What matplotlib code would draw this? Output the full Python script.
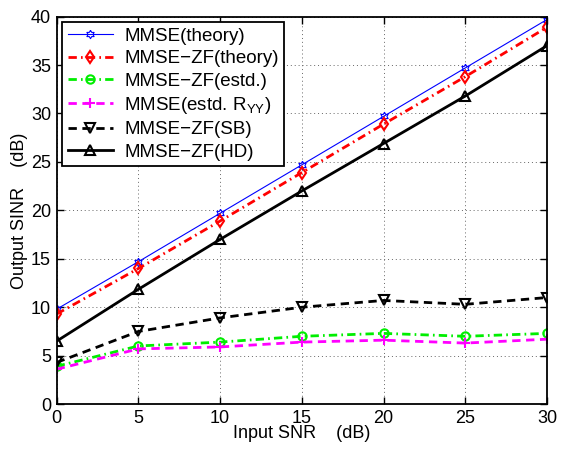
import numpy as np
import matplotlib
matplotlib.use("Agg")
import matplotlib.pyplot as plt

plt.rcParams['font.family'] = ['Liberation Sans', 'DejaVu Sans']
plt.rcParams['mathtext.fontset'] = 'custom'
plt.rcParams['mathtext.rm'] = 'Liberation Sans'
plt.rcParams['mathtext.it'] = 'Liberation Sans'

snr = [0, 5, 10, 15, 20, 25, 30]
mmse_theory = [9.8, 14.7, 19.7, 24.7, 29.7, 34.7, 39.7]
zf_theory = [9.3, 14.0, 18.9, 23.9, 28.9, 33.8, 38.9]
zf_estd = [3.9, 6.0, 6.4, 7.0, 7.3, 7.0, 7.3]
mmse_estd = [3.6, 5.7, 5.9, 6.4, 6.6, 6.3, 6.7]
zf_sb = [4.3, 7.5, 8.9, 10.0, 10.7, 10.3, 11.0]
zf_hd = [6.5, 11.85, 17.0, 22.0, 26.9, 31.8, 37.0]

# six-pointed star marker
ang_out = np.deg2rad(90 + 60 * np.arange(6))
ang_in = ang_out + np.deg2rad(30)
hexagram = []
for a, b in zip(ang_out, ang_in):
    hexagram.append((np.cos(a), np.sin(a)))
    hexagram.append((0.58 * np.cos(b), 0.58 * np.sin(b)))
hexagram.append(hexagram[0])

dashdot = (0, (3, 1.5, 0.6, 1.5))
dashed = (0, (3, 2))

fig = plt.figure(figsize=(5.61, 4.49), dpi=100)
ax = fig.add_axes([0.101, 0.1, 0.874, 0.863])

ax.plot(snr, mmse_theory, color='blue', lw=0.8, marker=hexagram, ms=6,
        mfc='none', mec='blue', mew=0.8, label='MMSE(theory)')
ax.plot(snr, zf_theory, color='red', lw=2, ls=dashdot, marker='d', ms=6,
        mfc='none', mec='red', mew=1.5, label='MMSE\u2212ZF(theory)')
ax.plot(snr, zf_estd, color='#00ee00', lw=2, ls=dashdot, marker='o', ms=6,
        mfc='none', mec='#00ee00', mew=1.5, label='MMSE\u2212ZF(estd.)')
ax.plot(snr, mmse_estd, color='magenta', lw=2, ls=dashed, marker='+', ms=7,
        mec='magenta', mew=1.5, label='MMSE(estd. R$_{YY}$)')
ax.plot(snr, zf_sb, color='black', lw=2, ls=dashed, marker='v', ms=7,
        mfc='none', mec='black', mew=1.5, label='MMSE\u2212ZF(SB)')
ax.plot(snr, zf_hd, color='black', lw=2, ls='-', marker='^', ms=7,
        mfc='none', mec='black', mew=1.5, label='MMSE\u2212ZF(HD)')

ax.set_xlim(0, 30)
ax.set_ylim(0, 40)
ax.set_xticks(range(0, 31, 5))
ax.set_yticks(range(0, 41, 5))
ax.grid(True, ls=(0, (1, 3)), color='#666666', lw=0.7)
ax.tick_params(direction='in', top=True, right=True, labelsize=13, length=5,
               width=1.0, pad=4)
for s in ax.spines.values():
    s.set_linewidth(1.3)

ax.set_xlabel('Input SNR    (dB)', fontsize=13, labelpad=-1)
ax.set_ylabel('Output SINR    (dB)', fontsize=13, labelpad=2)

leg = ax.legend(loc='upper left', fontsize=13.5, fancybox=False, framealpha=1,
                edgecolor='black', borderaxespad=0.3, handlelength=2.4,
                labelspacing=0.28, borderpad=0.3, handletextpad=0.6)
leg.get_frame().set_linewidth(1.3)

fig.savefig('out.png', dpi=100)
